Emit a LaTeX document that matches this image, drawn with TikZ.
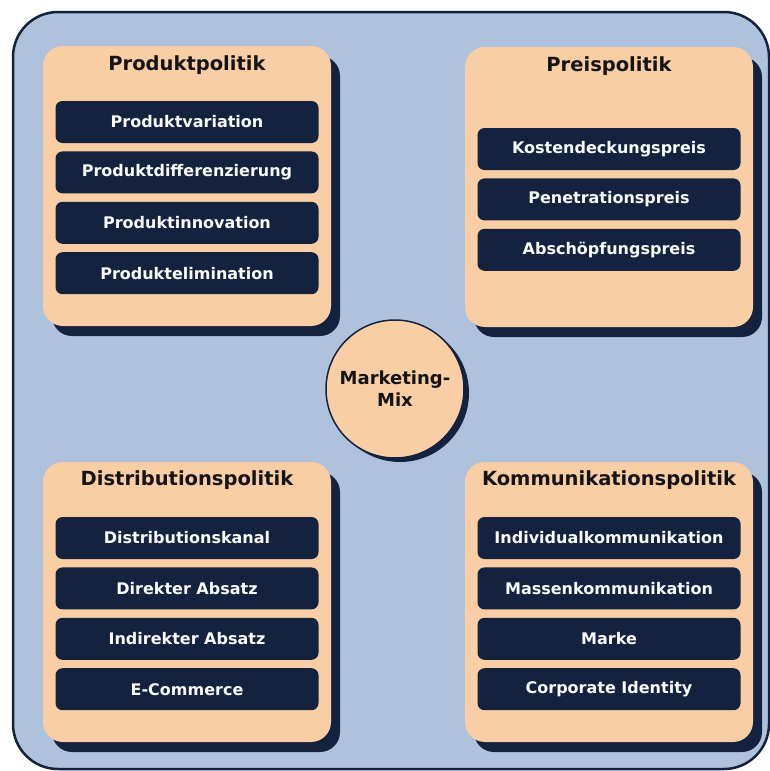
\documentclass[tikz,border=0pt]{standalone}
\usepackage{fontspec}
\setmainfont{DejaVu Sans}
\usetikzlibrary{positioning, shadows}
\definecolor{MixBlue}{HTML}{AFC2DB}
\definecolor{MixOrange}{HTML}{FACEA5}
\definecolor{MixNavy}{HTML}{13223F}

\begin{document}
\begin{tikzpicture}[x=1pt, y=-1pt, node distance=8pt,
  frame/.style={rectangle, rounded corners=45pt, draw=MixNavy, line width=2.5pt, fill=MixBlue, minimum width=756pt, minimum height=757pt},
  panel/.style={rectangle, rounded corners=20pt, fill=MixOrange, minimum width=288pt, minimum height=280pt,
    general shadow={fill=MixNavy, shadow xshift=9pt, shadow yshift=-10pt}},
  ttl/.style={text=black!92, font=\fontsize{19.5}{22}\selectfont\bfseries},
  item/.style={rectangle, rounded corners=7pt, fill=MixNavy, text=white!94!MixBlue, minimum width=263pt, minimum height=42pt,
    font=\fontsize{16}{18}\selectfont\bfseries},
  mix/.style={circle, draw=MixNavy, line width=1.5pt, fill=MixOrange, minimum size=138pt, align=center,
    general shadow={fill=MixNavy, shadow xshift=5pt, shadow yshift=-4pt}, text=black!92,
    font=\fontsize{18}{22}\selectfont\bfseries}]
  \useasboundingbox (0,0) rectangle (770,771);
  \node[frame] (bg) at (391,390.5) {};

  % four panels
  \node[panel] (pp) at (187,186) {};
  \node[panel] (prp) at (609,187) {};
  \node[panel] (dp) at (187,602) {};
  \node[panel] (kp) at (609,602) {};

  \node[ttl, below=6pt of pp.north] (ppt) {Produktpolitik};
  \node[ttl, below=6pt of prp.north] (prpt) {Preispolitik};
  \node[ttl, below=5pt of dp.north] (dpt) {Distributionspolitik};
  \node[ttl, below=5pt of kp.north] (kpt) {Kommunikationspolitik};

  % Produktpolitik
  \node[item, below=55pt of pp.north] (pp1) {Produktvariation};
  \node[item, below=of pp1] (pp2) {Produktdifferenzierung};
  \node[item, below=of pp2] (pp3) {Produktinnovation};
  \node[item, below=of pp3] (pp4) {Produktelimination};

  % Preispolitik
  \node[item, below=81pt of prp.north] (prp1) {Kostendeckungspreis};
  \node[item, below=of prp1] (prp2) {Penetrationspreis};
  \node[item, below=of prp2] (prp3) {Abschöpfungspreis};

  % Distributionspolitik
  \node[item, below=55pt of dp.north] (dp1) {Distributionskanal};
  \node[item, below=of dp1] (dp2) {Direkter Absatz};
  \node[item, below=of dp2] (dp3) {Indirekter Absatz};
  \node[item, below=of dp3] (dp4) {E-Commerce};

  % Kommunikationspolitik
  \node[item, below=55pt of kp.north] (kp1) {Individualkommunikation};
  \node[item, below=of kp1] (kp2) {Massenkommunikation};
  \node[item, below=of kp2] (kp3) {Marke};
  \node[item, below=of kp3] (kp4) {Corporate Identity};

  \node[mix] (mm) at (395,389) {Marketing-\\Mix};
\end{tikzpicture}
\end{document}
